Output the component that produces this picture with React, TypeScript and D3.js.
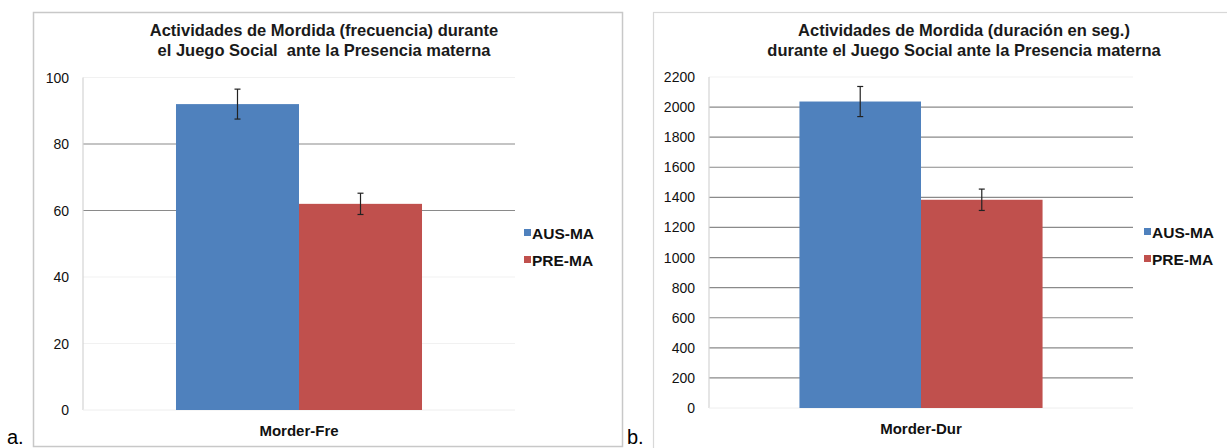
import React from 'react';
import * as d3 from 'd3';

// datos
const seriesNames = ['AUS-MA', 'PRE-MA'];
const seriesColors = ['#4f81bd', '#c0504d'];

const freCategories = ['Morder-Fre'];
const freMeans = [92, 62];
const freErrors = [4.5, 3.2];
const freTicks = [0, 20, 40, 60, 80, 100];
const freStrongTicks = [60, 80];

const durCategories = ['Morder-Dur'];
const durMeans = [2037, 1384];
const durErrors = [100, 71];
const durTicks = [0, 200, 400, 600, 800, 1000, 1200, 1400, 1600, 1800, 2000, 2200];
const durStrongTicks = [200, 400, 600, 800, 1000, 1200, 1400, 1600, 1800, 2000];

const font = '"Liberation Sans", Arial, sans-serif';

interface PanelProps {
  title: string[];
  titleX: number;
  categories: string[];
  means: number[];
  errors: number[];
  ticks: number[];
  strongTicks: number[];
  x0: number;
  x1: number;
  y0: number;
  y1: number;
  outer: number;
  labelY: number;
  legendX: number;
  legendY: number;
}

const Panel: React.FC<PanelProps> = (p) => {
  const max = p.ticks[p.ticks.length - 1];
  const y = d3.scaleLinear().domain([0, max]).range([p.y0, p.y1]);
  const xCat = d3.scaleBand<string>().domain(p.categories).range([p.x0, p.x1])
    .paddingInner(0).paddingOuter(p.outer);
  const xSer = d3.scaleBand<string>().domain(seriesNames).range([0, xCat.bandwidth()]);
  const cat = p.categories[0];
  const bx = xCat(cat)!;

  return (
    <g>
      {p.title.map((t, i) => (
        <text key={i} x={p.titleX} y={36 + i * 19.5} textAnchor="middle" style={{ whiteSpace: 'pre' }}
          fontFamily={font} fontWeight="bold" fontSize={16.5} fill="#1a1a1a">{t}</text>
      ))}
      {p.ticks.map(t => (
        <g key={t}>
          {t > 0 && (
            <line x1={p.x0} x2={p.x1} y1={y(t)} y2={y(t)}
              stroke={p.strongTicks.includes(t) ? '#8a8a8a' : '#f1f1f1'} strokeWidth={1.2} />
          )}
          <text x={p.x0 - 14} y={y(t)} dy="0.36em" textAnchor="end"
            fontFamily={font} fontSize={14} fill="#111">{t}</text>
        </g>
      ))}
      <line x1={p.x0} x2={p.x0} y1={y(max)} y2={p.y0} stroke="#d4d4d4" strokeWidth={1.2} />
      <line x1={p.x0} x2={p.x1} y1={p.y0} y2={p.y0} stroke="#eeeeee" strokeWidth={1} />
      {seriesNames.map((s, i) => (
        <rect key={s} x={bx + xSer(s)!} y={y(p.means[i])} width={xSer.bandwidth()}
          height={p.y0 - y(p.means[i])} fill={seriesColors[i]} />
      ))}
      {seriesNames.map((s, i) => {
        const cx = bx + xSer(s)! + xSer.bandwidth() / 2;
        const top = y(p.means[i] + p.errors[i]);
        const bot = y(p.means[i] - p.errors[i]);
        return (
          <g key={s} stroke="#222" strokeWidth={1.2}>
            <line x1={cx} x2={cx} y1={top} y2={bot} />
            <line x1={cx - 3} x2={cx + 3} y1={top} y2={top} />
            <line x1={cx - 3} x2={cx + 3} y1={bot} y2={bot} />
          </g>
        );
      })}
      <text x={xCat(cat)! + xCat.bandwidth() / 2} y={p.labelY} textAnchor="middle"
        fontFamily={font} fontWeight="bold" fontSize={15} fill="#111">{cat}</text>
      {seriesNames.map((s, i) => (
        <g key={s} transform={`translate(${p.legendX},${p.legendY + i * 27})`}>
          <rect x={0} y={-4} width={7} height={7} fill={seriesColors[i]} />
          <text x={8} y={0} dy="0.36em" fontFamily={font} fontWeight="bold"
            fontSize={15.5} fill="#111">{s}</text>
        </g>
      ))}
    </g>
  );
};

export default function App() {
  return (
    <svg width={1227} height={448} style={{ position: 'absolute', left: 0, top: 0, background: '#fff' }}>
      <rect x={33.5} y={12.5} width={589} height={434} fill="none" stroke="#c8c8c8" strokeWidth={1.5} />
      <rect x={653.5} y={12.5} width={600} height={460} fill="none" stroke="#d8d8d8" strokeWidth={1.2} />
      <text x={7} y={444} fontFamily={font} fontSize={20} fill="#000">a.</text>
      <text x={627} y={444} fontFamily={font} fontSize={20} fill="#000">b.</text>
      <Panel
        title={['Actividades de Mordida (frecuencia) durante', 'el Juego Social  ante la Presencia materna']}
        titleX={324}
        categories={freCategories}
        means={freMeans}
        errors={freErrors}
        ticks={freTicks}
        strongTicks={freStrongTicks}
        x0={83} x1={515} y0={410} y1={77.5}
        outer={0.378}
        labelY={436}
        legendX={524} legendY={233}
      />
      <Panel
        title={['Actividades de Mordida (duración en seg.)', 'durante el Juego Social ante la Presencia materna']}
        titleX={964}
        categories={durCategories}
        means={durMeans}
        errors={durErrors}
        ticks={durTicks}
        strongTicks={durStrongTicks}
        x0={709} x1={1133} y0={408} y1={77}
        outer={0.372}
        labelY={434}
        legendX={1144} legendY={232}
      />
    </svg>
  );
}
